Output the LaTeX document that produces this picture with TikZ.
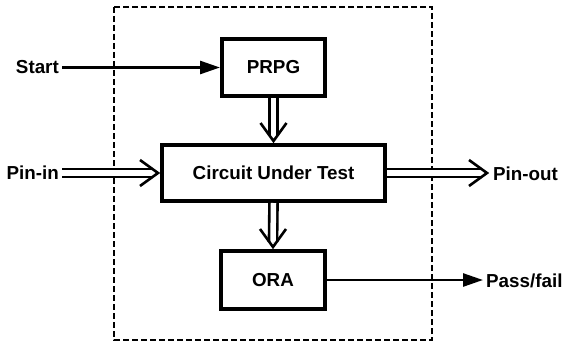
\documentclass[tikz,border=0pt]{standalone}
\usepackage{fontspec}
\setmainfont{Liberation Sans}
\usetikzlibrary{arrows.meta,calc}
\begin{document}
\begin{tikzpicture}[x=1pt,y=-1pt,
  txt/.style={font=\fontsize{18.8}{22}\selectfont\bfseries},
  box/.style={draw,line width=4pt,inner sep=0pt,txt},
  lbl/.style={inner sep=0pt,txt},
  sig/.style={line width=2.6pt,-{Triangle[length=20pt,width=13pt]}},
  bus/.style={double,double distance=5.5pt,line width=2.6pt},
  barb/.style={line width=2.6pt,line join=miter},
  frame/.style={line width=2.4pt,dash pattern=on 6pt off 3pt}
]
\useasboundingbox (0,0) rectangle (570,345);
\draw[frame] (114,7) rectangle (432,340);
\node[box,minimum width=103pt,minimum height=57pt] (prpg) at (273.5,67.5) {PRPG};
\node[box,minimum width=223pt,minimum height=56pt] (cut) at (273.5,173) {Circuit Under Test};
\node[box,minimum width=104pt,minimum height=58pt] (ora) at (273,280) {ORA};
\node[lbl,anchor=east] (start) at (59,67.5) {Start};
\node[lbl,anchor=east] (pinin) at (59,173) {Pin-in};
\node[lbl,anchor=west] (pinout) at (493,174) {Pin-out};
\node[lbl,anchor=west] (pass) at (486,281) {Pass/fail};
\coordinate (potip) at (487,173);
\coordinate (pftip) at (483,280);
% Start -> PRPG
\draw[sig] ($(start.east)+(3,0)$) -- (prpg.west);
% ORA -> Pass/fail
\draw[sig] (ora.east) -- (pftip);
% Pin-in => CUT
\draw[bus] ($(pinin.east)+(3,0)$) -- ($(cut.west)+(-7,0)$);
\draw[barb] ($(cut.west)+(-20,-13)$) -- ($(cut.west)+(-2,0)$) -- ($(cut.west)+(-20,13)$);
% CUT => Pin-out
\draw[bus] (cut.east) -- ($(potip)+(-5,0)$);
\draw[barb] ($(potip)+(-18,-13)$) -- (potip) -- ($(potip)+(-18,13)$);
% PRPG => CUT
\draw[bus] (prpg.south) -- ($(cut.north)+(0,-7)$);
\draw[barb] ($(cut.north)+(-13,-20)$) -- ($(cut.north)+(0,-2)$) -- ($(cut.north)+(13,-20)$);
% CUT => ORA
\draw[bus] (cut.south) -- ($(ora.north)+(0,-7)$);
\draw[barb] ($(ora.north)+(-13,-20)$) -- ($(ora.north)+(0,-2)$) -- ($(ora.north)+(13,-20)$);
\end{tikzpicture}
\end{document}
